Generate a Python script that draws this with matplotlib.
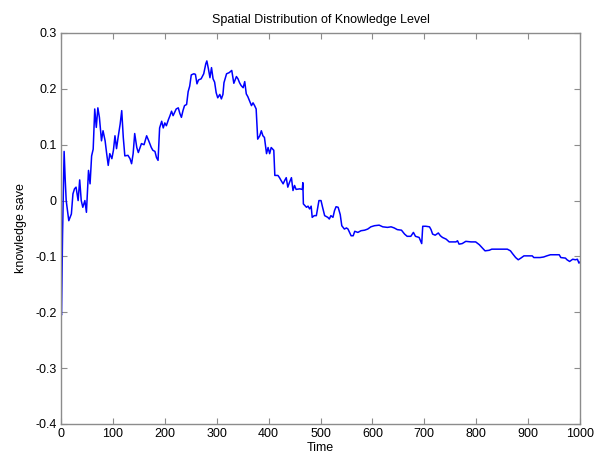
import matplotlib
matplotlib.use("Agg")
import matplotlib.pyplot as plt

# (time, knowledge save)
time = [0, 1, 3, 6, 8, 10, 15, 20, 23, 26, 29, 33, 36, 39, 42, 46, 49, 53, 56, 59,
        62, 65, 68, 71, 74, 78, 81, 85, 88, 91, 94, 98, 101, 104, 107, 110, 114, 117, 120, 123,
        129, 133, 136, 139, 142, 146, 149, 155, 160, 165, 169, 174, 177, 181, 184, 187, 190, 194, 197, 200,
        203, 207, 210, 213, 216, 219, 222, 226, 229, 232, 235, 238, 242, 245, 248, 251, 256, 259, 262, 265,
        270, 275, 279, 281, 284, 287, 290, 293, 296, 299, 302, 306, 309, 312, 314, 319, 324, 329, 333, 338,
        341, 344, 347, 351, 354, 357, 360, 363, 367, 370, 373, 376, 379, 383, 386, 389, 392, 396, 399, 402,
        405, 410, 412, 418, 421, 424, 428, 431, 434, 437, 440, 444, 447, 450, 453, 460, 465, 466, 467, 473,
        476, 479, 482, 484, 488, 492, 497, 501, 504, 508, 514, 517, 520, 524, 527, 530, 534, 538, 541, 546,
        550, 553, 556, 559, 563, 566, 572, 578, 585, 591, 597, 604, 613, 620, 629, 636, 642, 648, 656, 662,
        667, 674, 679, 683, 690, 695, 697, 703, 710, 713, 716, 721, 727, 731, 735, 742, 748, 761, 764, 767,
        773, 780, 790, 799, 806, 812, 817, 825, 830, 844, 860, 866, 870, 876, 881, 886, 892, 908, 911, 923,
        930, 936, 943, 960, 963, 972, 975, 980, 986, 991, 995, 998, 1000]
knowledge = [-0.200, -0.205, -0.060, 0.088, 0.040, 0.000, -0.036, -0.024, 0.012, 0.021,
             0.024, 0.000, 0.037, 0.000, -0.012, 0.000, -0.021, 0.054, 0.030, 0.080,
             0.092, 0.164, 0.131, 0.166, 0.149, 0.107, 0.125, 0.107, 0.084, 0.063,
             0.084, 0.075, 0.090, 0.116, 0.093, 0.113, 0.137, 0.161, 0.113, 0.080,
             0.081, 0.075, 0.066, 0.084, 0.120, 0.095, 0.086, 0.102, 0.100, 0.116,
             0.107, 0.095, 0.090, 0.088, 0.077, 0.072, 0.130, 0.142, 0.130, 0.139,
             0.134, 0.145, 0.152, 0.160, 0.152, 0.158, 0.164, 0.166, 0.156, 0.149,
             0.161, 0.170, 0.172, 0.195, 0.205, 0.225, 0.227, 0.226, 0.209, 0.216,
             0.218, 0.227, 0.245, 0.250, 0.236, 0.220, 0.238, 0.218, 0.212, 0.193,
             0.184, 0.190, 0.182, 0.190, 0.211, 0.227, 0.229, 0.233, 0.210, 0.222,
             0.218, 0.211, 0.206, 0.202, 0.213, 0.191, 0.186, 0.179, 0.170, 0.175,
             0.170, 0.164, 0.110, 0.116, 0.125, 0.116, 0.113, 0.084, 0.095, 0.084,
             0.095, 0.090, 0.045, 0.045, 0.041, 0.036, 0.030, 0.036, 0.041, 0.024,
             0.032, 0.041, 0.018, 0.027, 0.020, 0.021, 0.020, 0.032, -0.006, -0.012,
             -0.010, -0.015, -0.010, -0.030, -0.027, -0.027, 0.000, 0.000, -0.012, -0.027,
             -0.030, -0.033, -0.027, -0.030, -0.018, -0.011, -0.012, -0.025, -0.045, -0.051,
             -0.049, -0.051, -0.057, -0.063, -0.063, -0.055, -0.057, -0.054, -0.053, -0.051,
             -0.047, -0.045, -0.044, -0.047, -0.048, -0.047, -0.049, -0.052, -0.053, -0.060,
             -0.064, -0.064, -0.057, -0.064, -0.066, -0.077, -0.046, -0.046, -0.047, -0.052,
             -0.060, -0.062, -0.058, -0.063, -0.066, -0.069, -0.074, -0.074, -0.072, -0.078,
             -0.077, -0.073, -0.074, -0.074, -0.079, -0.085, -0.090, -0.089, -0.087, -0.087,
             -0.087, -0.090, -0.095, -0.102, -0.106, -0.103, -0.099, -0.099, -0.102, -0.102,
             -0.101, -0.099, -0.097, -0.097, -0.102, -0.103, -0.106, -0.109, -0.105, -0.106,
             -0.105, -0.112, -0.110]

xticks = [0, 100, 200, 300, 400, 500, 600, 700, 800, 900, 1000]
yticks = [-0.4, -0.3, -0.2, -0.1, 0, 0.1, 0.2, 0.3]


def main():
    plt.rcParams['font.family'] = ['Liberation Sans', 'DejaVu Sans']
    fig = plt.figure(figsize=(6.03, 4.57), dpi=100)
    ax = fig.add_axes([61 / 603, 1 - 424 / 457, 519 / 603, 391 / 457])

    ax.plot(time, knowledge, color='#0000ff', linewidth=1.1)

    ax.set_xlim(0, 1000)
    ax.set_ylim(-0.4, 0.3)
    ax.set_xticks(xticks)
    ax.set_yticks(yticks)
    ax.set_yticklabels(['-0.4', '-0.3', '-0.2', '-0.1', '0', '0.1', '0.2', '0.3'])

    for sp in ax.spines.values():
        sp.set_color('#8c8c8c')
        sp.set_linewidth(1.0)
    ax.tick_params(direction='in', length=4, width=0.8, color='#8c8c8c',
                   top=True, right=True, labelsize=9, labelcolor='black', pad=3)

    ax.set_xlabel('Time', fontsize=9, labelpad=1)
    ax.set_ylabel('knowledge save', fontsize=9, labelpad=6)
    ax.set_title('Spatial Distribution of Knowledge Level', fontsize=9, pad=7)

    fig.savefig('out.png', dpi=100)


if __name__ == "__main__":
    main()
